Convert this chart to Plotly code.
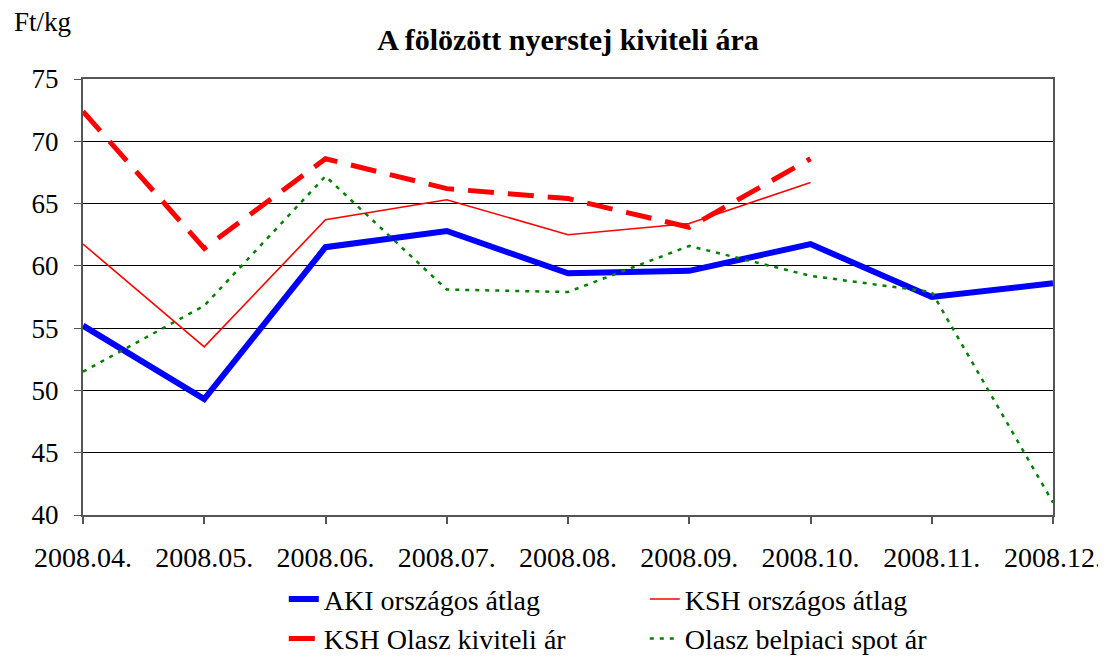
import plotly.graph_objects as go

months = ["2008.04.", "2008.05.", "2008.06.", "2008.07.", "2008.08.",
          "2008.09.", "2008.10.", "2008.11.", "2008.12."]
aki_atlag = [55.2, 49.3, 61.5, 62.8, 59.4, 59.6, 61.75, 57.5, 58.6]
ksh_atlag = [61.75, 53.5, 63.7, 65.3, 62.5, 63.4, 66.7, None, None]
ksh_olasz = [72.4, 61.4, 68.6, 66.2, 65.4, 63.1, 68.6, None, None]
olasz_spot = [51.5, 56.8, 67.2, 58.1, 57.9, 61.6, 59.2, 57.9, 41.0]

FONT = "Liberation Serif"

fig = go.Figure()
fig.add_trace(go.Scatter(x=months, y=aki_atlag, mode="lines", name="AKI országos átlag",
                         line=dict(color="#0000FF", width=6)))
fig.add_trace(go.Scatter(x=months, y=ksh_atlag, mode="lines", name="KSH országos átlag",
                         line=dict(color="#FF0000", width=1.6)))
fig.add_trace(go.Scatter(x=months, y=ksh_olasz, mode="lines", name="KSH Olasz kiviteli ár",
                         line=dict(color="#FF0000", width=5, dash="26px,14px")))
fig.add_trace(go.Scatter(x=months, y=olasz_spot, mode="lines", name="Olasz belpiaci spot ár",
                         line=dict(color="#008000", width=2.5, dash="4px,6px")))

fig.update_layout(
    width=1098, height=649,
    margin=dict(l=75, r=53, t=71, b=142, autoexpand=False),
    paper_bgcolor="white", plot_bgcolor="white",
    font=dict(family=FONT, size=27, color="black"),
    title=dict(text="<b>A fölözött nyerstej kiviteli ára</b>", x=0.5, xref="paper",
               xanchor="center", yref="container", y=0.951, yanchor="middle",
               font=dict(size=30)),
    showlegend=True,
    legend=dict(orientation="h", x=0.207, xanchor="left", y=-0.136, yanchor="top",
                entrywidth=316, entrywidthmode="pixels", itemwidth=30,
                font=dict(size=28), bgcolor="rgba(0,0,0,0)"),
    annotations=[dict(text="Ft/kg", xref="paper", yref="paper", x=-0.0732, y=1.13,
                      xanchor="left", yanchor="middle", showarrow=False,
                      font=dict(size=27))],
)
fig.update_xaxes(type="category", range=[0, 8], showgrid=False,
                 showline=True, linecolor="#555555", linewidth=2, mirror=True,
                 ticks="outside", ticklen=7, tickcolor="#555555", tickwidth=1.5,
                 ticklabelstandoff=9, tickfont=dict(size=28))
fig.update_yaxes(range=[40, 75], dtick=5, showgrid=True, gridcolor="black", gridwidth=1,
                 showline=True, linecolor="#555555", linewidth=2, mirror=True,
                 ticks="outside", ticklen=7, tickcolor="#555555",
                 ticklabelstandoff=10, tickfont=dict(size=27), zeroline=False)

fig.write_html("out.html")
